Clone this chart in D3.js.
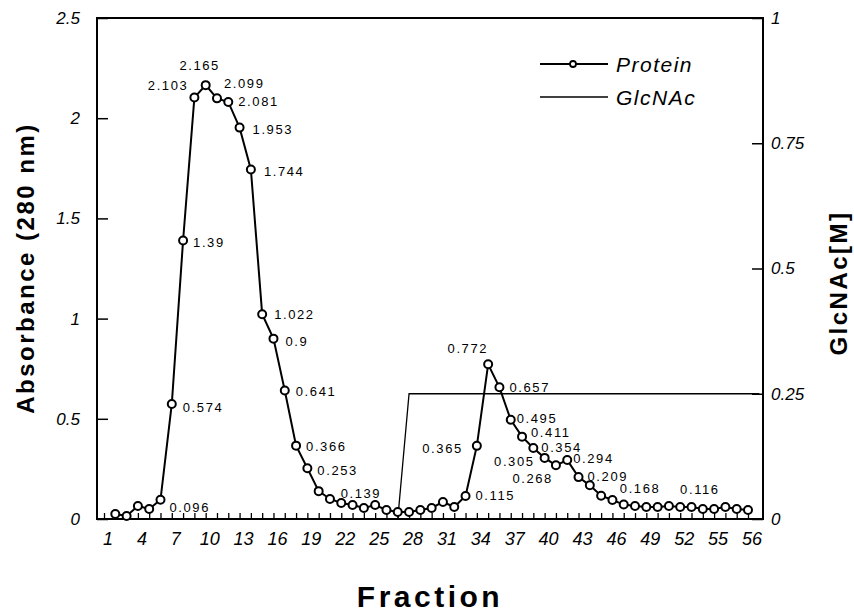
<!DOCTYPE html>
<html>
<head>
<meta charset="utf-8">
<script src="https://cdn.jsdelivr.net/npm/d3@7"></script>
<style>
  html, body { margin: 0; padding: 0; background: #fff; }
  svg { display: block; }
</style>
</head>
<body>
<svg id="chart" width="854" height="613"></svg>
<script>
// ---------------- DATA ----------------
const fractions = [2,3,4,5,6,7,8,9,10,11,12,13,14,15,16,17,18,19,20,21,22,23,24,25,26,27,28,29,30,
  31,32,33,34,35,36,37,38,39,40,41,42,43,44,45,46,47,48,49,50,51,52,53,54,55,56,57,58];
const protein = [0.025,0.015,0.065,0.05,0.096,0.574,1.39,2.103,2.165,2.099,2.081,1.953,1.744,1.022,0.9,
  0.641,0.366,0.253,0.139,0.1,0.08,0.07,0.055,0.07,0.045,0.035,0.035,0.045,0.055,0.085,0.06,0.115,
  0.365,0.772,0.657,0.495,0.411,0.354,0.305,0.268,0.294,0.209,0.168,0.116,0.095,0.072,0.065,0.06,
  0.06,0.065,0.06,0.06,0.05,0.05,0.06,0.05,0.045];
// GlcNAc step gradient (breakpoints)
const glcFractions = [1, 27, 28, 59];
const glcValues = [0, 0, 0.25, 0.25];
// fractions whose protein value is written next to the marker
const labeledFractions = [6,7,8,9,10,11,12,13,14,15,16,17,18,19,20,33,34,35,36,37,38,39,40,41,42,43,44,45];
// x tick labels
const xTickFractions = [1,4,7,10,13,16,19,22,25,28,31,34,37,40,43,46,49,52,55,58];
const xTickLabels = ["1","4","7","10","13","16","19","22","25","28","31","34","37","40","43","46","49","52","55","56"];
const yLeftTicks = [0, 0.5, 1, 1.5, 2, 2.5];
const yRightTicks = [0, 0.25, 0.5, 0.75, 1];

// ---------------- LAYOUT ----------------
const L = 97, R = 763, T = 18, B = 519;
// label placement (dx, dy from marker, text-anchor)
const labelPlace = {
  6:[9,8,"start"], 7:[11,4,"start"], 8:[10,2,"start"], 9:[-6,-12,"end"], 10:[-6,-20,"middle"],
  11:[7,-15,"start"], 12:[10,0,"start"], 13:[13,2,"start"], 14:[13,2,"start"], 15:[12,0,"start"],
  16:[12,3,"start"], 17:[11,1,"start"], 18:[10,1,"start"], 19:[10,2,"start"], 20:[22,2,"start"],
  33:[10,0,"start"], 34:[-14,3,"end"], 35:[0,-16,"end"], 36:[10,0,"start"], 37:[6,-1,"start"],
  38:[9,-4,"start"], 39:[8,-1,"start"], 40:[-10,4,"end"], 41:[-3,13,"end"], 42:[6,-2,"start"],
  43:[9,-1,"start"], 44:[30,3,"start"], 45:[79,-6,"start"]
};

const svg = d3.select("#chart");
svg.append("rect").attr("width", 854).attr("height", 613).attr("fill", "#fff");

const x = d3.scaleLinear().domain([1, 58]).range([104, 748]);
const yL = d3.scaleLinear().domain([0, 2.5]).range([B, T]);
const yR = d3.scaleLinear().domain([0, 1]).range([B, T]);

const tickFont = "'Liberation Sans', Arial, sans-serif";

// frame
svg.append("rect").attr("x", L).attr("y", T).attr("width", R - L).attr("height", B - T)
  .attr("fill", "none").attr("stroke", "#000").attr("stroke-width", 2);

// left axis
const gL = svg.append("g").attr("transform", `translate(${L},0)`)
  .call(d3.axisRight(yL).tickValues(yLeftTicks).tickSize(11).tickFormat(d3.format("")));
gL.select(".domain").remove();
gL.selectAll(".tick line").attr("stroke", "#000").attr("stroke-width", 1.5);
gL.selectAll(".tick text").attr("x", -17).attr("text-anchor", "end")
  .style("font-family", tickFont).style("font-style", "italic").style("font-size", "17px").attr("fill", "#000");

// right axis
const gR = svg.append("g").attr("transform", `translate(${R},0)`)
  .call(d3.axisLeft(yR).tickValues(yRightTicks).tickSize(11).tickFormat(d3.format("")));
gR.select(".domain").remove();
gR.selectAll(".tick line").attr("stroke", "#000").attr("stroke-width", 1.5);
gR.selectAll(".tick text").attr("x", 8).attr("text-anchor", "start")
  .style("font-family", tickFont).style("font-style", "italic").style("font-size", "17px").attr("fill", "#000");

// bottom axis: small inward ticks at every fraction
const allFr = d3.range(1, 59);
const gB = svg.append("g").attr("transform", `translate(0,${B})`)
  .call(d3.axisTop(x).tickValues(allFr).tickSize(6).tickFormat(""));
gB.select(".domain").remove();
gB.selectAll(".tick line").attr("stroke", "#000").attr("stroke-width", 1.3);

// bottom tick labels
svg.append("g").selectAll("text").data(xTickFractions).join("text")
  .attr("x", (d) => x(d) + 4).attr("y", 545)
  .attr("text-anchor", "middle")
  .style("font-family", tickFont).style("font-style", "italic").style("font-size", "18px")
  .text((d, i) => xTickLabels[i]);

// GlcNAc line
const glcData = glcFractions.map((f, i) => ({ f, v: glcValues[i] }));
svg.append("path").datum(glcData)
  .attr("d", d3.line().x((d) => Math.min(x(d.f), R)).y((d) => yR(d.v)))
  .attr("fill", "none").attr("stroke", "#000").attr("stroke-width", 1.3);

// Protein line
const pData = fractions.map((f, i) => ({ f, v: protein[i] }));
svg.append("path").datum(pData)
  .attr("d", d3.line().x((d) => x(d.f)).y((d) => yL(d.v)))
  .attr("fill", "none").attr("stroke", "#000").attr("stroke-width", 2);

svg.append("g").selectAll("circle").data(pData).join("circle")
  .attr("cx", (d) => x(d.f)).attr("cy", (d) => yL(d.v)).attr("r", 4)
  .attr("fill", "#fff").attr("stroke", "#000").attr("stroke-width", 2);

// value labels
const lblData = pData.filter((d) => labeledFractions.includes(d.f));
svg.append("g").selectAll("text").data(lblData).join("text")
  .attr("x", (d) => x(d.f) + labelPlace[d.f][0])
  .attr("y", (d) => yL(d.v) + labelPlace[d.f][1])
  .attr("text-anchor", (d) => labelPlace[d.f][2])
  .attr("dominant-baseline", "central")
  .style("font-family", tickFont).style("font-size", "13px").style("letter-spacing", "1.6px")
  .text((d) => String(d.v));

// legend
const lg = svg.append("g");
lg.append("line").attr("x1", 540).attr("x2", 608).attr("y1", 64).attr("y2", 64)
  .attr("stroke", "#000").attr("stroke-width", 2);
lg.append("circle").attr("cx", 573).attr("cy", 64).attr("r", 3)
  .attr("fill", "#fff").attr("stroke", "#000").attr("stroke-width", 1.8);
lg.append("text").attr("x", 616).attr("y", 64).attr("dominant-baseline", "central")
  .style("font-family", tickFont).style("font-style", "italic").style("font-size", "21px")
  .style("letter-spacing", "1.5px").text("Protein");
lg.append("line").attr("x1", 540).attr("x2", 608).attr("y1", 97).attr("y2", 97)
  .attr("stroke", "#000").attr("stroke-width", 1.3);
lg.append("text").attr("x", 616).attr("y", 97).attr("dominant-baseline", "central")
  .style("font-family", tickFont).style("font-style", "italic").style("font-size", "21px")
  .style("letter-spacing", "1.5px").text("GlcNAc");

// axis titles
svg.append("text").attr("transform", "translate(25,268) rotate(-90)")
  .attr("text-anchor", "middle").attr("dominant-baseline", "central")
  .style("font-family", tickFont).style("font-weight", "bold").style("font-size", "24px")
  .style("letter-spacing", "2.5px").text("Absorbance (280 nm)");
svg.append("text").attr("transform", "translate(838,283) rotate(-90)")
  .attr("text-anchor", "middle").attr("dominant-baseline", "central")
  .style("font-family", tickFont).style("font-weight", "bold").style("font-size", "24px")
  .style("letter-spacing", "2.5px").text("GlcNAc[M]");
svg.append("text").attr("x", 430).attr("y", 596)
  .attr("text-anchor", "middle").attr("dominant-baseline", "central")
  .style("font-family", tickFont).style("font-weight", "bold").style("font-size", "30px")
  .style("letter-spacing", "3.5px").text("Fraction");
</script>
</body>
</html>
